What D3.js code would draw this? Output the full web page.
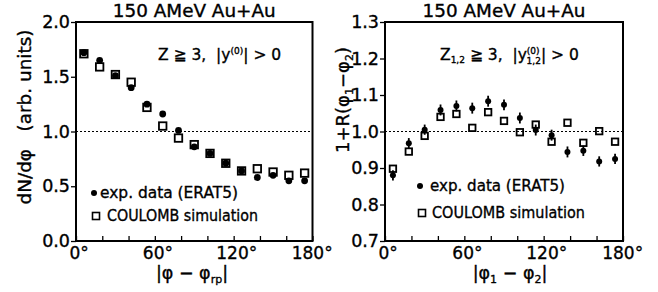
<!DOCTYPE html>
<html>
<head>
<meta charset="utf-8">
<script src="https://cdn.jsdelivr.net/npm/d3@7"></script>
<style>
  body { margin: 0; background: #fff; }
  text { font-family: "DejaVu Sans", sans-serif; fill: #000; stroke: #000; stroke-width: 0.35px; }
</style>
</head>
<body>
<svg id="chart" width="658" height="292"></svg>
<script>
// bin centres (12 degree bins)
var phi = [6, 18, 30, 42, 54, 66, 78, 90, 102, 114, 126, 138, 150, 162, 174];

// left panel: dN/dphi
var leftExp = [1.72, 1.65, 1.51, 1.40, 1.25, 1.16, 1.01, 0.86, 0.80, 0.71, 0.64, 0.58, 0.60, 0.55, 0.55];
var leftSim = [1.71, 1.59, 1.52, 1.45, 1.22, 1.05, 0.94, 0.88, 0.80, 0.71, 0.64, 0.66, 0.63, 0.60, 0.62];

// right panel: 1+R(phi1-phi2)
var rightExp = [0.880, 0.968, 1.005, 1.059, 1.070, 1.064, 1.083, 1.073, 1.037, 1.004, 0.990, 0.944, 0.947, 0.918, 0.925];
var rightErr = [0.014, 0.014, 0.014, 0.015, 0.015, 0.015, 0.015, 0.015, 0.015, 0.015, 0.015, 0.015, 0.014, 0.014, 0.014];
var rightSim = [0.898, 0.945, 0.988, 1.040, 1.048, 1.010, 1.053, 1.029, 0.998, 1.019, 0.972, 1.024, 0.969, 1.001, 0.972];

var xTicks = [0, 20, 40, 60, 80, 100, 120, 140, 160, 180];
var xLabels = [0, 60, 120, 180];
var leftTicks = [0.0, 0.5, 1.0, 1.5, 2.0];
var rightTicks = [0.7, 0.8, 0.9, 1.0, 1.1, 1.2, 1.3];

var svg = d3.select("#chart");

function panel(opt) {
    var x = d3.scaleLinear().domain([0, 180]).range([opt.x0, opt.x1]);
    var y = d3.scaleLinear().domain(opt.yDomain).range([241, 22]);
    var g = svg.append("g");

    // x axis: inward ticks, labels every 60 deg
    var ax = g.append("g")
        .attr("transform", "translate(0,241)")
        .call(d3.axisBottom(x).tickValues(xTicks).tickSize(-5).tickPadding(6)
            .tickFormat(function(d) { return xLabels.indexOf(d) >= 0 ? d + "°" : ""; }));
    ax.select(".domain").remove();
    ax.selectAll("line").attr("stroke-width", 1.3);
    ax.selectAll("text").style("font-size", "17px")
        .attr("dx", function(d) { return d == 180 ? "-0.05em" : "0.15em"; });

    // y axis: outward ticks
    var ay = g.append("g")
        .attr("transform", "translate(" + opt.x0 + ",0)")
        .call(d3.axisLeft(y).tickValues(opt.yTicks).tickSize(5).tickPadding(1)
            .tickFormat(d3.format(".1f")));
    ay.select(".domain").remove();
    ay.selectAll("line").attr("stroke-width", 1.3);
    ay.selectAll("text").style("font-size", "17.5px");

    // frame
    g.append("rect")
        .attr("x", opt.x0).attr("y", 22)
        .attr("width", opt.x1 - opt.x0).attr("height", 219)
        .attr("fill", "none").attr("stroke", "#000").attr("stroke-width", 2);

    // reference line at 1
    g.append("line")
        .attr("x1", opt.x0).attr("x2", opt.x1)
        .attr("y1", y(1)).attr("y2", y(1))
        .attr("stroke", "#000").attr("stroke-width", 1)
        .attr("stroke-dasharray", "2,2");

    // title
    g.append("text")
        .attr("x", (opt.x0 + opt.x1) / 2).attr("y", 17)
        .attr("text-anchor", "middle").style("font-size", "17.5px")
        .attr("textLength", 163).attr("lengthAdjust", "spacingAndGlyphs")
        .text("150 AMeV Au+Au");

    // error bars
    if (opt.err) {
        g.selectAll(".err").data(phi).enter().append("line")
            .attr("x1", function(d) { return x(d); }).attr("x2", function(d) { return x(d); })
            .attr("y1", function(d, i) { return y(opt.exp[i] - opt.err[i]); })
            .attr("y2", function(d, i) { return y(opt.exp[i] + opt.err[i]); })
            .attr("stroke", "#000").attr("stroke-width", 1.8);
    }

    // simulation: open squares
    var s = opt.sq;
    g.selectAll(".sim").data(phi).enter().append("rect")
        .attr("x", function(d) { return x(d) - s / 2; })
        .attr("y", function(d, i) { return y(opt.sim[i]) - s / 2; })
        .attr("width", s).attr("height", s)
        .attr("fill", "none").attr("stroke", "#000").attr("stroke-width", 1.8);

    // experiment: filled circles
    g.selectAll(".exp").data(phi).enter().append("circle")
        .attr("cx", function(d) { return x(d); })
        .attr("cy", function(d, i) { return y(opt.exp[i]); })
        .attr("r", opt.r).attr("fill", "#000");

    // legend
    var L = opt.leg;
    g.append("circle").attr("cx", L.cx).attr("cy", L.y1 - 5).attr("r", 3).attr("fill", "#000");
    g.append("text").attr("x", L.t1).attr("y", L.y1).style("font-size", "15.5px")
        .attr("textLength", L.w1).attr("lengthAdjust", "spacingAndGlyphs")
        .text("exp. data (ERAT5)");
    g.append("rect").attr("x", L.sx - 3.5).attr("y", L.y2 - 5 - 3.5).attr("width", 7).attr("height", 7)
        .attr("fill", "none").attr("stroke", "#000").attr("stroke-width", 1.6);
    g.append("text").attr("x", L.t2).attr("y", L.y2).style("font-size", "15.5px")
        .attr("textLength", L.w2).attr("lengthAdjust", "spacingAndGlyphs")
        .text("COULOMB simulation");

    return g;
}

var gl = panel({x0: 76, x1: 312.5, yDomain: [0, 2], yTicks: leftTicks,
    exp: leftExp, sim: leftSim, sq: 7.5, r: 3.4,
    leg: {cx: 94, sx: 96, t1: 100, y1: 198, w1: 138, t2: 107, y2: 221, w2: 151}});
var gr = panel({x0: 385, x1: 623, yDomain: [0.7, 1.3], yTicks: rightTicks,
    exp: rightExp, sim: rightSim, err: rightErr, sq: 6.5, r: 3,
    leg: {cx: 420, sx: 422, t1: 430, y1: 191, w1: 135, t2: 432, y2: 218, w2: 153}});

// annotations
var a1 = gl.append("text").attr("x", 158).attr("y", 60).style("font-size", "15.5px")
    .attr("xml:space", "preserve");
a1.append("tspan").text("Z ≧ 3,  |y");
a1.append("tspan").attr("dy", -6).style("font-size", "9px").text("(0)");
a1.append("tspan").attr("dy", 6).text("| > 0");

var a2 = gr.append("text").attr("x", 440).attr("y", 60).style("font-size", "15.5px")
    .attr("xml:space", "preserve");
a2.append("tspan").text("Z");
a2.append("tspan").attr("dy", 3).style("font-size", "9px").text("1,2");
a2.append("tspan").attr("dy", -3).text(" ≧ 3,  |y");
a2.append("tspan").attr("dy", -6).style("font-size", "9px").text("(0)");
a2.append("tspan").attr("dx", -13).attr("dy", 10).style("font-size", "9px").text("1,2");
a2.append("tspan").attr("dy", -4).text("| > 0");

// y labels
gl.append("text").attr("transform", "translate(31,117) rotate(-90)")
    .attr("text-anchor", "middle").style("font-size", "18px")
    .attr("textLength", 175).attr("lengthAdjust", "spacingAndGlyphs")
    .attr("xml:space", "preserve")
    .text("dN/dφ   (arb. units)");

var yr = gr.append("text").attr("transform", "translate(349,100) rotate(-90)")
    .attr("text-anchor", "middle").style("font-size", "18px");
yr.append("tspan").text("1+R(φ");
yr.append("tspan").attr("dy", 4).style("font-size", "11px").text("1");
yr.append("tspan").attr("dy", -4).text("−φ");
yr.append("tspan").attr("dy", 4).style("font-size", "11px").text("2");
yr.append("tspan").attr("dy", -4).text(")");

// x labels
var xl = gl.append("text").attr("x", 192).attr("y", 279).attr("text-anchor", "middle").style("font-size", "17.5px");
xl.append("tspan").text("|φ − φ");
xl.append("tspan").attr("dy", 4).style("font-size", "11px").text("rp");
xl.append("tspan").attr("dy", -4).text("|");

var xr = gr.append("text").attr("x", 510).attr("y", 279).attr("text-anchor", "middle").style("font-size", "17.5px");
xr.append("tspan").text("|φ");
xr.append("tspan").attr("dy", 4).style("font-size", "11px").text("1");
xr.append("tspan").attr("dy", -4).text(" − φ");
xr.append("tspan").attr("dy", 4).style("font-size", "11px").text("2");
xr.append("tspan").attr("dy", -4).text("|");
</script>
</body>
</html>
